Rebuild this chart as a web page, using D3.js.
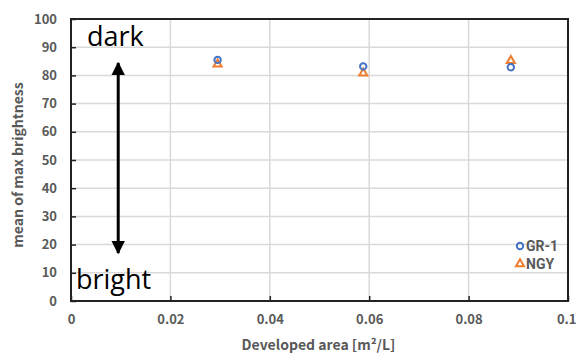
<!DOCTYPE html>
<html>
<head>
<meta charset="utf-8">
<script src="https://cdn.jsdelivr.net/npm/d3@7"></script>
<style>
  body { margin: 0; background: #fff; }
  svg text { font-family: "Noto Sans CJK JP", "Noto Sans", sans-serif; }
</style>
</head>
<body>
<svg id="chart"></svg>
<script>
// data
var areas = [0.0295, 0.0588, 0.0885];
var gr1 = [85.5, 83.2, 82.9];
var ngy = [84.0, 80.8, 85.2];
var seriesNames = ['GR-1', 'NGY'];
var xTicks = [0, 0.02, 0.04, 0.06, 0.08, 0.1];
var yTicks = [0, 10, 20, 30, 40, 50, 60, 70, 80, 90, 100];

var W = 576, H = 354;
var margin = { top: 19, right: 8, bottom: 53, left: 71 },
    width = W - margin.left - margin.right,
    height = H - margin.top - margin.bottom;

var blue = '#4472c4', orange = '#ed7d31', grey = '#595959';

var svg = d3.select('#chart').attr('width', W).attr('height', H);
var g = svg.append('g').attr('transform', `translate(${margin.left},${margin.top})`);

var x = d3.scaleLinear().domain([0, 0.1]).range([0, width]);
var y = d3.scaleLinear().domain([0, 100]).range([height, 0]);

// grid
g.selectAll('.hgrid').data(yTicks.slice(1, -1)).enter().append('line')
    .attr('x1', 0).attr('x2', width)
    .attr('y1', d => y(d)).attr('y2', d => y(d))
    .attr('stroke', '#d9d9d9').attr('stroke-width', 1.5);
g.selectAll('.vgrid').data(xTicks.slice(1, -1)).enter().append('line')
    .attr('x1', d => x(d)).attr('x2', d => x(d))
    .attr('y1', 0).attr('y2', height)
    .attr('stroke', '#d9d9d9').attr('stroke-width', 1.5);

// axes with inward ticks
var yAxis = g.append('g').call(d3.axisLeft(y).tickValues(yTicks).tickSizeInner(-5).tickSizeOuter(0).tickPadding(14));
var xAxis = g.append('g').attr('transform', `translate(0,${height})`)
    .call(d3.axisBottom(x).tickValues(xTicks).tickSizeInner(-5).tickSizeOuter(0).tickPadding(14)
        .tickFormat(d => d === 0 ? '0' : d === 0.1 ? '0.1' : d3.format('.2f')(d)));
[yAxis, xAxis].forEach(a => {
    a.select('.domain').remove();
    a.selectAll('.tick line').attr('stroke', '#222').attr('stroke-width', 1.5);
    a.selectAll('text').attr('fill', grey).style('font-size', '13px').style('font-weight', 'bold');
});
// last x label sits against the right edge
xAxis.selectAll('.tick text').filter(d => d === 0.1).attr('text-anchor', 'end').attr('dx', 8);

// frame
g.append('rect').attr('width', width).attr('height', height)
    .attr('fill', 'none').attr('stroke', '#222').attr('stroke-width', 2);

// axis titles
svg.append('text')
    .attr('x', margin.left + width / 2 - 1).attr('y', 350)
    .attr('text-anchor', 'middle').attr('fill', grey)
    .style('font-size', '14px').style('font-weight', 'bold')
    .text('Developed area [m²/L]');
svg.append('text')
    .attr('transform', `translate(23,${margin.top + height / 2 + 5}) rotate(-90)`)
    .attr('text-anchor', 'middle').attr('fill', grey)
    .style('font-size', '14px').style('font-weight', 'bold')
    .text('mean of max brightness');

// annotation arrow
var ax = x(0.0095);
svg.append('defs').append('marker')
    .attr('id', 'head').attr('viewBox', '0 0 10 10').attr('refX', 9).attr('refY', 5)
    .attr('markerWidth', 4.6).attr('markerHeight', 4.6).attr('orient', 'auto-start-reverse')
    .append('path').attr('d', 'M0,0 L10,5 L0,10 Z').attr('fill', '#000');
g.append('line')
    .attr('x1', ax).attr('x2', ax).attr('y1', 44).attr('y2', 234)
    .attr('stroke', '#000').attr('stroke-width', 3)
    .attr('marker-start', 'url(#head)').attr('marker-end', 'url(#head)');
svg.append('text').attr('x', 87).attr('y', 46)
    .style('font-family', '"Open Sans", sans-serif').style('font-size', '27px').text('dark');
svg.append('text').attr('x', 76).attr('y', 289)
    .style('font-family', '"Open Sans", sans-serif').style('font-size', '27px').text('bright');

// points
var tri = d3.symbol().type(d3.symbolTriangle).size(28);
g.selectAll('.ngy').data(areas).enter().append('path')
    .attr('d', tri)
    .attr('transform', (d, i) => `translate(${x(d)},${y(ngy[i])})`)
    .attr('fill', 'none').attr('stroke', orange).attr('stroke-width', 2);
g.selectAll('.gr1').data(areas).enter().append('circle')
    .attr('cx', d => x(d)).attr('cy', (d, i) => y(gr1[i])).attr('r', 3.2)
    .attr('fill', 'none').attr('stroke', blue).attr('stroke-width', 2);

// legend
var leg = svg.append('g').attr('transform', 'translate(520,246)');
leg.append('circle').attr('r', 3.2).attr('fill', 'none').attr('stroke', blue).attr('stroke-width', 2);
leg.append('path').attr('d', tri).attr('transform', 'translate(0,18)')
    .attr('fill', 'none').attr('stroke', orange).attr('stroke-width', 2);
leg.selectAll('text').data(seriesNames).enter().append('text')
    .attr('x', 6).attr('y', (d, i) => 5 + i * 18)
    .attr('fill', grey).style('font-family', 'Roboto, sans-serif')
    .style('font-size', '14px').style('font-weight', 'bold')
    .text(d => d);
</script>
</body>
</html>
